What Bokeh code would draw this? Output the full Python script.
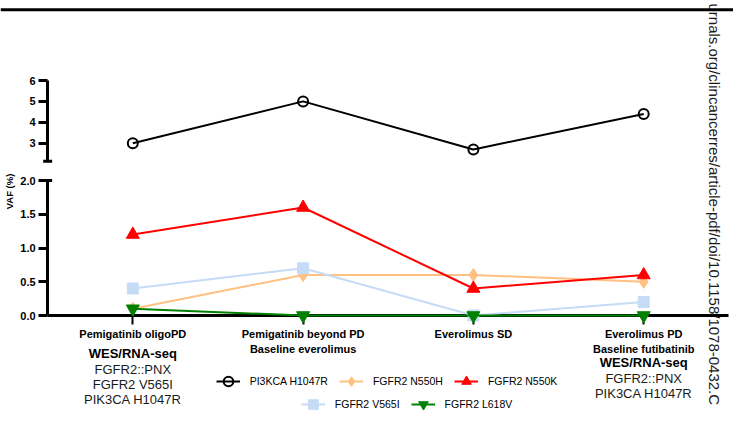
import math
from bokeh.plotting import figure
from bokeh.models import (Range1d, LinearAxis, Legend, LegendItem, FixedTicker,
                          NumeralTickFormatter, Span)
from bokeh.core.properties import value
from bokeh.embed import file_html
from bokeh.resources import INLINE

# ---------------- data ----------------
x_pos = [1, 2, 3, 4]
timepoints = ["Pemigatinib oligoPD",
              "Pemigatinib beyond PD\nBaseline everolimus",
              "Everolimus SD",
              "Everolimus PD\nBaseline futibatinib"]
pik3ca_h1047r = [3.0, 5.0, 2.7, 4.4]
fgfr2_n550h = [0.1, 0.6, 0.6, 0.5]
fgfr2_n550k = [1.2, 1.6, 0.4, 0.6]
fgfr2_v565i = [0.4, 0.7, 0.0, 0.2]
fgfr2_l618v = [0.1, 0.0, 0.0, 0.0]
upper_ticks = [3, 4, 5, 6]
lower_ticks = [0.0, 0.5, 1.0, 1.5, 2.0]
upper_bounds = (2.14, 6)
lower_bounds = (0, 2)
notes_first_title = "WES/RNA-seq"
notes_first = ["FGFR2::PNX", "FGFR2 V565I", "PIK3CA H1047R"]
notes_last_title = "WES/RNA-seq"
notes_last = ["FGFR2::PNX", "PIK3CA H1047R"]
y_label = "VAF (%)"
watermark = "urnals.org/clincancerres/article-pdf/doi/10.1158/1078-0432.C"

# ---------------- layout ----------------
W, H = 733, 412
X1_PX, X_UNIT = 132.3, 170.3
Y0_PX, LOW_UNIT = 315.0, 67.5
Y6_PX, UP_UNIT = 80.0, 20.9
FONT = "Liberation Sans"

x_start = 1 - X1_PX / X_UNIT
x_end = x_start + W / X_UNIT
low_end = Y0_PX / LOW_UNIT
low_start = low_end - H / LOW_UNIT
up_end = 6 + Y6_PX / UP_UNIT
up_start = up_end - H / UP_UNIT


def lx(px):
    return x_start + px / X_UNIT


def ly(py):
    return (Y0_PX - py) / LOW_UNIT


p = figure(width=W, height=H, output_backend="svg", toolbar_location=None,
           x_range=Range1d(x_start, x_end), y_range=Range1d(low_start, low_end),
           min_border=0, outline_line_color=None)
p.extra_y_ranges = {"upper": Range1d(up_start, up_end)}
p.grid.visible = False


def style_axis(ax, tick_out=9):
    ax.axis_line_width = 3
    ax.axis_line_color = "black"
    ax.major_tick_line_width = 3
    ax.major_tick_out = tick_out
    ax.major_tick_in = 0
    ax.minor_tick_out = 0
    ax.minor_tick_in = 0
    ax.minor_tick_line_color = None
    ax.major_label_text_font = FONT
    ax.major_label_text_font_style = "bold"
    ax.major_label_text_color = "black"


xaxis = p.xaxis[0]
style_axis(xaxis)
xaxis.fixed_location = 0
xaxis.bounds = (0.5, 4.5)
xaxis.ticker = FixedTicker(ticks=x_pos)
xaxis.major_label_overrides = dict(zip(x_pos, timepoints))
xaxis.major_label_text_font_size = "11px"
xaxis.major_label_text_line_height = 1.25
xaxis.major_label_standoff = 3
xaxis.major_tick_line_width = 2

yaxis = p.yaxis[0]
style_axis(yaxis, 9)
yaxis.fixed_location = 0.5
yaxis.bounds = lower_bounds
yaxis.ticker = FixedTicker(ticks=lower_ticks)
yaxis.formatter = NumeralTickFormatter(format="0.0")
yaxis.major_label_text_font_size = "11px"
yaxis.major_label_standoff = 3

upper_axis = LinearAxis(y_range_name="upper", fixed_location=0.5,
                        bounds=upper_bounds, ticker=FixedTicker(ticks=upper_ticks))
style_axis(upper_axis, 9)
upper_axis.major_label_text_font_size = "11px"
upper_axis.major_label_standoff = 3
p.add_layout(upper_axis, "left")

# break caps on the broken y axis
cap = 4.5 / X_UNIT
p.segment(x0=[0.5 - cap], x1=[0.5 + cap], y0=[lower_bounds[1]], y1=[lower_bounds[1]],
          line_color="black", line_width=3)
p.segment(x0=[0.5 - cap], x1=[0.5 + cap], y0=[upper_bounds[0]], y1=[upper_bounds[0]],
          line_color="black", line_width=3, y_range_name="upper")

# top rule
p.add_layout(Span(location=ly(9.3), dimension="width", line_color="black", line_width=3))

series = [
    ("PI3KCA H1047R", pik3ca_h1047r, "black", "circle", 10, "upper"),
    ("FGFR2 N550H", fgfr2_n550h, "#FFC080", "diamond", 13, "default"),
    ("FGFR2 N550K", fgfr2_n550k, "#FF0000", "triangle", 13, "default"),
    ("FGFR2 V565I", fgfr2_v565i, "#C6DBF5", "square", 11, "default"),
    ("FGFR2 L618V", fgfr2_l618v, "#008000", "inverted_triangle", 13, "default"),
]
items = []
for name, vals, color, marker, size, rng in series:
    lr = p.line(x_pos, vals, line_color=color, line_width=2, y_range_name=rng, level="overlay")
    if marker == "circle":
        sr = p.scatter(x_pos, vals, marker=marker, size=size, fill_color=None,
                       line_color=color, line_width=2, y_range_name=rng, level="overlay")
    else:
        sr = p.scatter(x_pos, vals, marker=marker, size=size, fill_color=color,
                       line_color=color, line_width=1, y_range_name=rng, level="overlay")
    items.append(LegendItem(label=name, renderers=[lr, sr]))


def make_legend(its, left_px, center_px):
    gh = 26
    return Legend(items=its, location=(left_px, H - (center_px + gh / 2)),
                  orientation="horizontal", border_line_color=None,
                  background_fill_alpha=0, padding=0, margin=0, spacing=11,
                  label_standoff=10, glyph_width=24, glyph_height=gh, label_height=gh,
                  label_text_font=FONT, label_text_font_size="10.5px",
                  label_text_color="black")


p.add_layout(make_legend(items[:3], 215.7, 381))
p.add_layout(make_legend(items[3:], 300.8, 404))

# y axis title (shared by both parts of the broken axis)
p.text(x=[lx(9)], y=[ly(191)], text=[y_label], angle=math.pi / 2,
       text_align="center", text_baseline="middle", text_font=value(FONT),
       text_font_style="bold", text_font_size="9.5px", text_color="black")

# sample annotations under first and last time point
def notes(xc, title, lines, title_py):
    p.text(x=[xc], y=[ly(title_py)], text=[title], text_align="center",
           text_baseline="middle", text_font=value(FONT), text_font_style="bold",
           text_font_size="13px", text_color="black")
    p.text(x=[xc] * len(lines), y=[ly(title_py + 16 + 15.3 * i) for i in range(len(lines))],
           text=lines, text_align="center", text_baseline="middle",
           text_font=value(FONT), text_font_size="13px", text_color="#1a1a1a")


notes(x_pos[0], notes_first_title, notes_first, 352.5)
notes(x_pos[-1], notes_last_title, notes_last, 362)

# rotated download watermark on right
p.text(x=[lx(714)], y=[ly(3)], text=[watermark], angle=-math.pi / 2,
       text_align="left", text_baseline="middle", text_font=value(FONT),
       text_font_size="15px", text_color="#1a1a1a")

open("out.html", "w").write(file_html(p, INLINE))
